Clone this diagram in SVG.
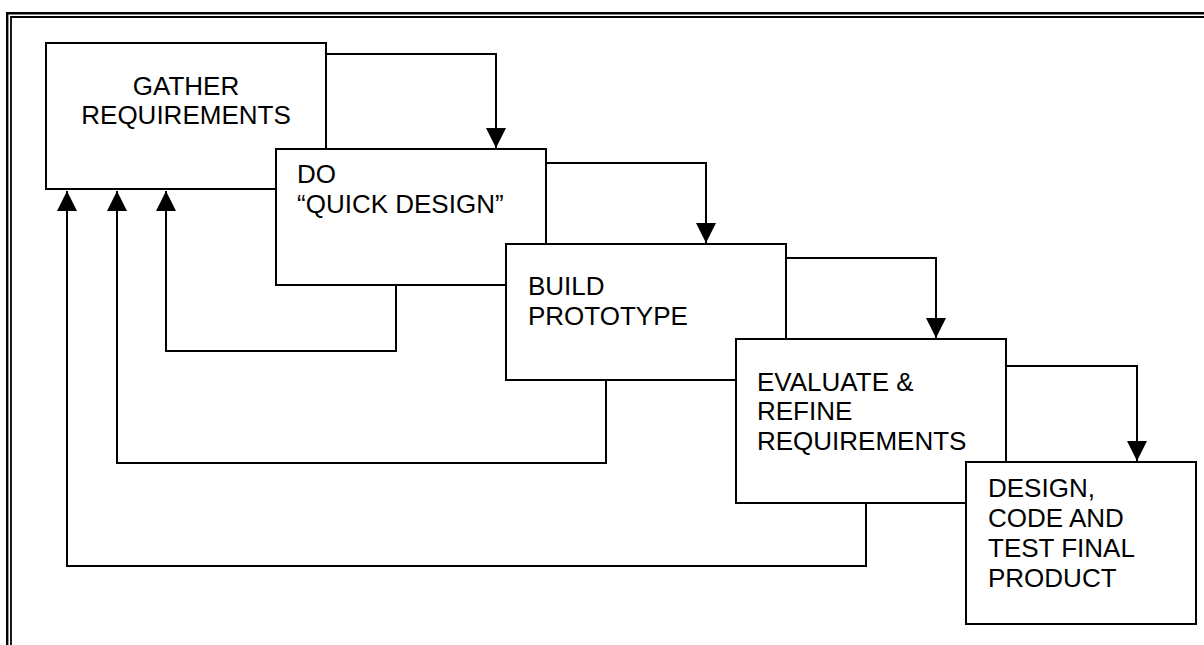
<svg xmlns="http://www.w3.org/2000/svg" width="1204" height="645" viewBox="0 0 1204 645">
<style>
.box{fill:#fff;stroke:#000;stroke-width:2}
.lbl{font-family:"Liberation Sans",Arial,sans-serif;font-size:26px;fill:#000}
.con{fill:none;stroke:#000;stroke-width:2;marker-end:url(#arr)}
.frame{fill:none;stroke:#000}
</style>
<defs>
<marker id="arr" markerUnits="userSpaceOnUse" markerWidth="20" markerHeight="20" refX="20" refY="10" orient="auto" viewBox="0 0 20 20">
<path d="M0,0 L20,10 L0,20 z" fill="#000"/>
</marker>
</defs>
<rect width="1204" height="645" fill="#fff"/>
<g id="frame">
<path class="frame" d="M7.2,645 V13.2 H1204" stroke-width="2.4"/>
<path class="frame" d="M11,645 V17 H1204" stroke-width="1.8"/>
</g>
<g id="n1">
<rect class="box" x="46" y="43" width="280" height="146"/>
<text class="lbl" text-anchor="middle"><tspan x="186" y="95">GATHER</tspan><tspan x="186" y="124">REQUIREMENTS</tspan></text>
</g>
<g id="n2">
<rect class="box" x="276" y="149" width="270" height="136"/>
<text class="lbl"><tspan x="297" y="183">DO</tspan><tspan x="297" y="213">“QUICK DESIGN”</tspan></text>
</g>
<g id="n3">
<rect class="box" x="506" y="244" width="280" height="136"/>
<text class="lbl"><tspan x="528" y="295">BUILD</tspan><tspan x="528" y="325">PROTOTYPE</tspan></text>
</g>
<g id="n4">
<rect class="box" x="736" y="339" width="270" height="164"/>
<text class="lbl"><tspan x="757" y="391">EVALUATE &amp;</tspan><tspan x="757" y="420">REFINE</tspan><tspan x="757" y="450">REQUIREMENTS</tspan></text>
</g>
<g id="n5">
<rect class="box" x="966" y="462" width="230" height="162"/>
<text class="lbl"><tspan x="988" y="497">DESIGN,</tspan><tspan x="988" y="527">CODE AND</tspan><tspan x="988" y="557">TEST FINAL</tspan><tspan x="988" y="587">PRODUCT</tspan></text>
</g>
<g id="connectors">
<path class="con" d="M326,54 H496 V148"/>
<path class="con" d="M546,163 H706 V243"/>
<path class="con" d="M786,258 H936 V338"/>
<path class="con" d="M1006,366 H1137 V461"/>
<path class="con" d="M396,285 V351 H166 V191"/>
<path class="con" d="M606,380 V463 H117 V191"/>
<path class="con" d="M866,503 V566 H67 V191"/>
</g>
</svg>
